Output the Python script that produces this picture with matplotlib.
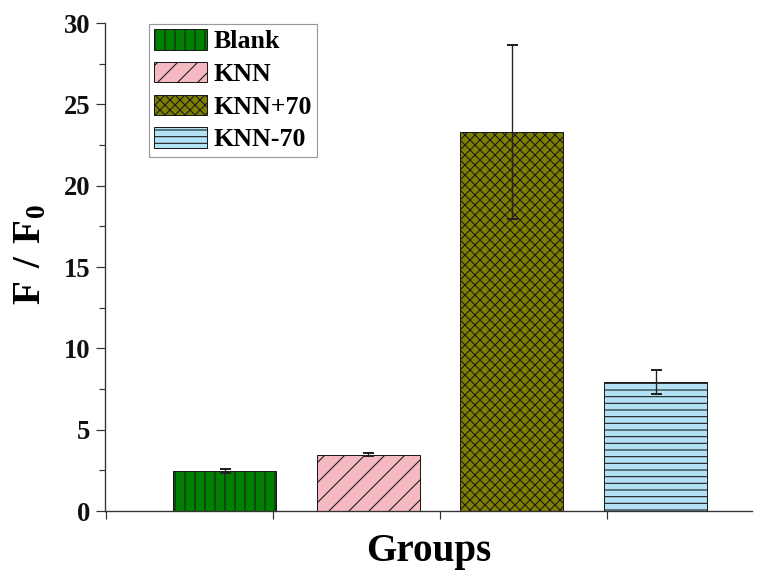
#!/usr/bin/env python3
"""
F / F0 bar chart for the four groups (Blank, KNN, KNN+70, KNN-70)
with hatched bars and error bars.
"""

import matplotlib

matplotlib.use("Agg")
import matplotlib.pyplot as plt
import numpy as np

# Data
groups = ["Blank", "KNN", "KNN+70", "KNN-70"]
ratio = [2.46, 3.46, 23.28, 7.95]
ratio_err = [0.10, 0.08, 5.35, 0.75]

bar_colors = ["#008000", "#f5b9c2", "#808000", "#b2e2f6"]
bar_hatches = ["||", "//", "xxxx", "---"]

# Render at 120 dpi so the hatch spacing matches the original
DPI = 120
FIGSIZE = (763 / DPI, 572 / DPI)

plt.rcParams["font.family"] = ["Liberation Serif", "DejaVu Serif"]
plt.rcParams["font.weight"] = "bold"
plt.rcParams["mathtext.fontset"] = "custom"
plt.rcParams["mathtext.rm"] = "Liberation Serif:bold"
plt.rcParams["mathtext.bf"] = "Liberation Serif:bold"
plt.rcParams["hatch.linewidth"] = 0.65
plt.rcParams["hatch.color"] = "#1a1a1a"

fig = plt.figure(figsize=FIGSIZE, dpi=DPI)
ax = fig.add_axes([0.1376, 0.1066, 0.848, 0.8531])

x = np.arange(len(groups)) + 1.0

for i in range(len(groups)):
    ax.bar(
        x[i],
        ratio[i],
        width=0.717,
        color=bar_colors[i],
        edgecolor="#1a1a1a",
        linewidth=0.6,
        hatch=bar_hatches[i],
        label=groups[i],
        zorder=2,
    )

ax.errorbar(
    x,
    ratio,
    yerr=ratio_err,
    fmt="none",
    ecolor="#222222",
    elinewidth=0.8,
    capsize=3.3,
    capthick=1.2,
    zorder=3,
)

# axes limits / ticks
ax.set_ylim(0, 30)
ax.set_xlim(0.168, 4.671)
ax.set_yticks(np.arange(0, 31, 5))
ax.set_yticks(np.arange(2.5, 30, 5), minor=True)
ax.set_xticks(0.175 + 1.162 * np.arange(4))
ax.set_xticklabels([])

for side in ["top", "right"]:
    ax.spines[side].set_visible(False)
for side in ["left", "bottom"]:
    ax.spines[side].set_linewidth(0.8)
    ax.spines[side].set_color("#333333")

ax.tick_params(axis="y", which="major", direction="out", length=5.4,
               width=0.72, pad=3.2, labelsize=16, colors="#333333",
               labelcolor="#111111")
ax.tick_params(axis="y", which="minor", direction="out", length=3.6,
               width=0.72, colors="#333333")
ax.tick_params(axis="x", which="major", direction="out", length=4.8,
               width=0.72, colors="#333333")
for lab in ax.get_yticklabels():
    lab.set_fontweight("bold")

ax.set_ylabel(r"$\mathbf{F\ /\ F_0}$", fontsize=23.5, labelpad=9)
ax.yaxis.label.set_y(0.525)
ax.set_xlabel("Groups", fontsize=23.5, fontweight="bold", labelpad=5)

leg = ax.legend(
    loc="upper left",
    bbox_to_anchor=(0.068, 0.998),
    borderaxespad=0,
    prop={"family": "Liberation Serif", "weight": "bold", "size": 15.5},
    handlelength=2.05,
    handleheight=0.84,
    handletextpad=0.25,
    labelspacing=0.33,
    borderpad=0.2,
    fancybox=False,
    framealpha=1,
    edgecolor="#999999",
)
leg.get_frame().set_linewidth(0.7)

plt.savefig("out.png", dpi=DPI)
print("Saved: out.png")
plt.close()
